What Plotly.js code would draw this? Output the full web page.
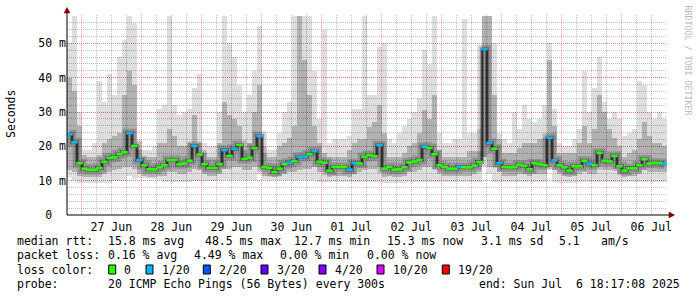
<!DOCTYPE html>
<html>
<head>
<meta charset="utf-8">
<script src="https://cdn.plot.ly/plotly-3.0.1.min.js"></script>
<style>
html,body{margin:0;padding:0;background:#fff;}
#chart{width:697px;height:297px;}
</style>
</head>
<body>
<div id="chart"></div>
<script>
// ---------- data (one value per 2-hour step) ----------
const startUTC = Date.UTC(2025, 5, 26, 18, 17, 8);   // 26 Jun 18:17:08
const endUTC   = Date.UTC(2025, 6, 6, 18, 17, 8);    // 06 Jul 18:17:08
const stepHours = 2;

const medianRtt = [
 23.5,21.2,15.1,13.5,13.2,13.2,13.7,15.5,16.6,16.8,
 17.7,18.3,23.8,20.1,16.0,14.5,13.3,13.3,13.9,14.5,
 16.0,16.0,14.8,15.0,15.8,20.1,17.6,14.8,13.7,13.7,
 14.8,18.9,17.2,19.3,20.4,16.3,16.7,19.5,23.0,14.0,
 13.7,12.5,13.5,14.8,15.2,15.7,16.9,17.0,17.7,18.6,
 15.5,15.2,12.9,14.0,14.0,14.0,13.2,15.1,15.0,16.9,
 17.5,17.1,20.3,13.5,14.0,13.2,13.3,13.9,15.3,15.6,
 16.0,19.9,19.5,17.7,14.5,14.0,13.5,13.5,14.0,13.9,
 13.9,14.4,15.4,48.3,21.0,19.3,15.1,14.0,13.9,14.0,
 14.6,14.3,13.3,15.1,14.8,14.5,22.5,15.9,14.5,13.9,
 12.9,14.2,14.2,15.8,15.0,14.5,18.1,15.8,15.6,17.2,
 14.2,12.9,13.6,13.6,14.5,16.2,15.0,15.2,15.1,14.8
];
const lossCount = [
 1,1,0,0,0,0,0,0,0,0,
 0,0,1,0,1,0,0,0,0,0,
 0,0,0,0,0,1,0,0,0,0,
 0,1,0,1,0,0,0,0,1,0,
 0,0,0,0,1,0,1,1,0,1,
 0,0,0,0,0,0,1,1,0,0,
 0,0,1,0,0,0,0,0,0,0,
 0,1,0,0,0,0,0,0,1,0,
 0,0,0,1,1,0,1,0,0,0,
 0,0,0,0,0,0,1,1,0,0,
 0,0,0,0,1,0,0,0,0,0,
 0,0,0,0,0,0,0,0,0,1
];
const pingMax = [
 50,58,30,19,19,21,39,33,41,35,
 46,51,58,56,22,19,19,20,31,32,
 58,32,29,30,31,37,41,21,20,20,
 30,58,50,46,38,30,35,42,55,20,
 19,19,24,30,33,58,58,58,58,42,
 28,54,21,22,22,22,23,31,31,58,
 35,35,49,50,22,21,24,26,28,30,
 34,48,44,58,24,21,21,22,22,57,
 24,24,25,58,58,50,24,22,21,30,
 25,32,28,27,28,32,50,31,21,20,
 20,22,25,42,30,37,46,33,28,30,
 28,23,24,25,39,38,30,28,30,28
];
const pingMin = [
 11.0,10.2,9.3,9.3,9.3,9.3,9.3,9.3,9.3,10.0,
 10.0,10.0,11.5,10.5,10.8,10.8,10.8,10.6,10.2,9.6,
 9.6,9.6,9.6,9.6,9.6,10.0,10.0,10.0,10.0,10.0,
 10.2,10.2,10.2,10.2,10.2,10.2,10.2,10.2,12.0,10.2,
 10.2,10.2,10.2,10.2,10.2,10.2,10.2,10.2,10.2,10.2,
 9.6,9.6,9.6,9.6,9.6,9.6,9.6,9.6,9.6,9.6,
 9.6,9.6,9.6,9.3,9.3,9.3,9.3,9.3,9.6,9.6,
 9.6,9.6,9.6,9.6,9.6,9.6,9.6,9.6,9.6,9.6,
 9.6,9.6,9.6,17.0,12.0,9.6,9.6,9.6,9.6,9.6,
 9.6,9.6,9.6,9.6,9.6,9.6,13.5,9.6,9.3,9.3,
 9.3,9.3,9.6,9.6,9.6,9.6,9.6,9.6,9.6,9.6,
 9.6,9.6,9.6,9.6,9.6,9.6,9.6,9.6,9.6,9.6
];
const smokeHigh = [
 40,36,26,17.5,17,17,17.5,21,22,23,
 24,35,42,38,19,17,17,17,21,21,
 25,23,20,20,21,29,21,18,17,17,
 21,33,29,28,26,19,21,30,38,18,
 17,17,20,21,22.5,26,58,45,35,26,
 21,18,17,17,17,17,19,21,22,22,
 25.6,27,32,24,17,17,17,18,20,21,
 24,30.5,28,35,19,17,17,17,17,17,
 18.5,18.5,18.5,58,58,35,22,18,18,18,
 19.5,21,21,21,22,22.5,45,26,18,18,
 18,18,21,26,21,25,35,30,25,22.5,
 20,17,18,19,22,27,23,21,21,20
];
const smokeLow = [
 13,12.5,11.5,11,11,11,11,12,12.5,13,
 13.5,14,14,13.5,12,11.5,11,11,11.5,11.5,
 12.5,12.5,12,12,12.5,13.5,13,12,11.5,11.5,
 12,13.5,13.5,14,14,13,13,14,14,11.5,
 11.5,11,11.5,12,12.5,12.5,13,13.5,13.5,14,
 12.5,12.5,11,11.5,11.5,11.5,11,12,12.5,13,
 13.5,13.5,14,11,11.5,11,11,11.5,12.5,12.5,
 13,14,14,13.5,12,11.5,11.5,11.5,11.5,11.5,
 11.5,12,12.5,17,14,14,12.5,11.5,11.5,11.5,
 12,12,11.5,12,12,12,14,13,12,11.5,
 11,11.5,12,12.5,12,12,14,13,13,13.5,
 12,11,11.5,11.5,12,13,12.5,12.5,12.5,12.5
];

const yTickVals = [0, 10, 20, 30, 40, 50];
const yTickText = ['0\u00a0\u00a0', '10 m', '20 m', '30 m', '40 m', '50 m'];

const lossLabels = ['0', '1/20', '2/20', '3/20', '4/20', '10/20', '19/20'];
const lossColors = ['#26ff00', '#00b8ff', '#0059ff', '#5e00ff', '#7e00ff', '#dd00ff', '#ff0000'];

const rttLabel = 'median rtt:';
const rttItems = ['15.8 ms avg', '48.5 ms max', '12.7 ms min', '15.3 ms now', '3.1 ms sd', '5.1', 'am/s'];
const lossLabel = 'packet loss:';
const lossItems = ['0.16 % avg', '4.49 % max', '0.00 % min', '0.00 % now'];
const colorLabel = 'loss color:';
const probeLabel = 'probe:';
const probeText = '20 ICMP Echo Pings (56 Bytes) every 300s';
const endText = 'end: Sun Jul\u00a0\u00a06 18:17:08 2025';
const yTitle = 'Seconds';
const credit = 'RRDTOOL / TOBI OETIKER';

// ---------- derived ----------
const HOUR = 3600e3;
const times = medianRtt.map((_, i) => startUTC + (i * stepHours + stepHours / 2) * HOUR);
const binWidth = stepHours * HOUR;
const markerColors = lossCount.map(c => lossColors[c]);

// pixel helpers for decorations outside the plot
const PL = 67, PR = 667, PT = 15, PB = 215;
const px = x => (x - PL) / (PR - PL);
const py = y => (PB - y) / (PB - PT);

const mono = 'DejaVu Sans Mono, monospace';
const txtFont = {family: mono, size: 11.5, color: '#000'};

const traces = [
  { type: 'bar', x: times, base: pingMin, y: pingMax.map((v, i) => v - pingMin[i]),
    width: binWidth, marker: {color: 'rgba(0,0,0,0.13)', line: {width: 0}},
    hoverinfo: 'skip', showlegend: false },
  { type: 'bar', x: times, base: smokeLow, y: smokeHigh.map((v, i) => v - smokeLow[i]),
    width: binWidth, marker: {color: 'rgba(0,0,0,0.20)', line: {width: 0}},
    hoverinfo: 'skip', showlegend: false },
  { type: 'scatter', mode: 'lines', x: times, y: medianRtt,
    line: {shape: 'hvh', width: 9, color: 'rgba(0,0,0,0.18)'}, hoverinfo: 'skip', showlegend: false },
  { type: 'scatter', mode: 'lines', x: times, y: medianRtt,
    line: {shape: 'hvh', width: 4, color: 'rgba(0,0,0,0.30)'}, hoverinfo: 'skip', showlegend: false },
  { type: 'scatter', mode: 'lines', x: times, y: medianRtt,
    line: {shape: 'hvh', width: 1, color: '#000'}, hoverinfo: 'skip', showlegend: false },
  { type: 'scatter', mode: 'markers', x: times, y: medianRtt,
    marker: {symbol: 'line-ew', size: 4.6, line: {width: 2.6, color: markerColors}},
    hoverinfo: 'skip', showlegend: false }
];

const annotations = [];
function addText(text, x, y, extra) {
  annotations.push(Object.assign({
    text: text, xref: 'paper', yref: 'paper', x: px(x), y: py(y),
    xanchor: 'left', yanchor: 'middle', showarrow: false, font: txtFont, borderpad: 0
  }, extra || {}));
}
const row1X = [107.3, 203.7, 293.3, 386.3, 479.7, 558, 600.3];
const row2X = [107.3, 193.3, 279.3, 366];
const swatchX = [108.7, 146, 203.3, 261, 319, 377, 442.3];
const rowY = [241, 255.4, 269.6, 283.9];
const textLeft = 16;

addText(rttLabel, textLeft, rowY[0]);
rttItems.forEach((t, i) => addText(t, row1X[i], rowY[0]));
addText(lossLabel, textLeft, rowY[1]);
lossItems.forEach((t, i) => addText(t, row2X[i], rowY[1]));
addText(colorLabel, textLeft, rowY[2]);
lossLabels.forEach((t, i) => addText(t, swatchX[i] + 14.6, rowY[2]));
addText(probeLabel, textLeft, rowY[3]);
addText(probeText, 107.3, rowY[3]);
addText(endText, 478, rowY[3]);
addText(yTitle, 11, 114, {xanchor: 'center', textangle: -90});
addText(credit, 687.5, 60, {xanchor: 'center', textangle: 90,
  font: {family: mono, size: 8.3, color: '#b8b8b8'}});

const shapes = [];
lossColors.forEach((c, i) => {
  shapes.push({type: 'rect', xref: 'paper', yref: 'paper',
    x0: px(swatchX[i]), x1: px(swatchX[i] + 7), y0: py(265), y1: py(274),
    fillcolor: c, line: {color: '#000', width: 1}});
});
// axis extensions and arrow heads
shapes.push({type: 'line', xref: 'paper', yref: 'paper', x0: px(67), x1: px(67), y0: py(215), y1: py(11),
  line: {color: '#000', width: 1}});
shapes.push({type: 'line', xref: 'paper', yref: 'paper', x0: px(67), x1: px(670), y0: py(215), y1: py(215),
  line: {color: '#000', width: 1}});
shapes.push({type: 'path', xref: 'paper', yref: 'paper',
  path: `M ${px(64)} ${py(13)} L ${px(70)} ${py(13)} L ${px(67)} ${py(7.5)} Z`,
  fillcolor: '#800000', line: {color: '#800000', width: 0.5}});
shapes.push({type: 'path', xref: 'paper', yref: 'paper',
  path: `M ${px(669)} ${py(212)} L ${px(669)} ${py(218)} L ${px(674.5)} ${py(215)} Z`,
  fillcolor: '#800000', line: {color: '#800000', width: 0.5}});

const layout = {
  width: 697, height: 297,
  margin: {l: PL, r: 697 - PR, t: PT, b: 297 - PB, pad: 0},
  paper_bgcolor: '#fff', plot_bgcolor: '#fff',
  barmode: 'overlay', bargap: 0,
  showlegend: false,
  xaxis: {
    type: 'date', range: [startUTC, endUTC],
    tick0: Date.UTC(2025, 5, 27), dtick: 86400000,
    tickformat: '%d %b', ticklabelmode: 'period', ticklabelstandoff: 3,
    ticks: '', showline: false, zeroline: false,
    showgrid: true, gridcolor: 'rgba(255,60,60,0.45)', gridwidth: 1, griddash: '1px,1px',
    minor: {dtick: 6 * HOUR, tick0: Date.UTC(2025, 5, 27), showgrid: true,
            gridcolor: 'rgba(0,0,0,0.25)', gridwidth: 1, griddash: '1px,1px', ticks: ''},
    tickfont: txtFont, fixedrange: true
  },
  yaxis: {
    range: [0, 58.25], tickvals: yTickVals, ticktext: yTickText,
    ticks: '', showline: false, zeroline: false,
    showgrid: true, gridcolor: 'rgba(255,60,60,0.45)', gridwidth: 1, griddash: '1px,1px',
    minor: {dtick: 2, tick0: 0, showgrid: true, gridcolor: 'rgba(0,0,0,0.25)', gridwidth: 1,
            griddash: '1px,1px', ticks: ''},
    tickfont: txtFont, fixedrange: true
  },
  annotations: annotations,
  shapes: shapes
};

Plotly.newPlot('chart', traces, layout, {staticPlot: true, displayModeBar: false});
</script>
</body>
</html>
